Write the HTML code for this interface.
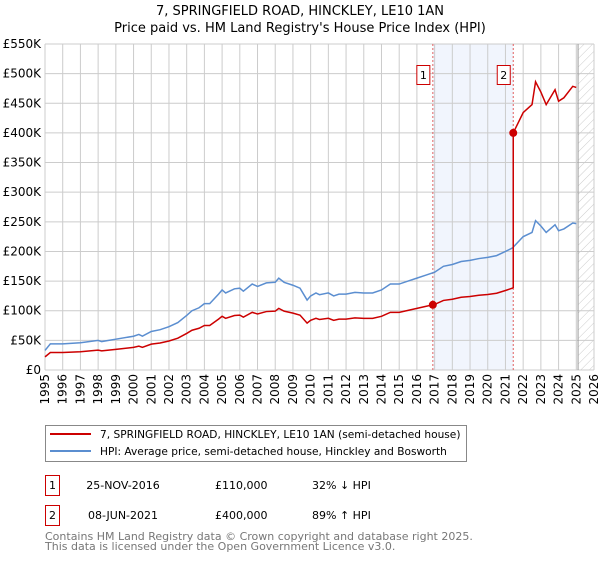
<!DOCTYPE html>
<html><head><meta charset="utf-8"><style>
body{margin:0;background:#fff;font-family:"DejaVu Sans","Liberation Sans",sans-serif;}
svg text{font-family:"DejaVu Sans","Liberation Sans",sans-serif;}
</style></head><body>
<svg id="chart" width="600" height="560" viewBox="0 0 600 560" xmlns="http://www.w3.org/2000/svg">
<defs><pattern id="hatch" width="6" height="6" patternUnits="userSpaceOnUse" patternTransform="rotate(45)"><line x1="0" y1="0" x2="0" y2="6" stroke="#ccc" stroke-width="1"/></pattern></defs>
<text x="300" y="15" text-anchor="middle" font-size="13">7, SPRINGFIELD ROAD, HINCKLEY, LE10 1AN</text>
<text x="300" y="32" text-anchor="middle" font-size="13">Price paid vs. HM Land Registry's House Price Index (HPI)</text>
<g id="grid"></g><g id="marks"></g><g id="axes"></g>
<g>
<rect x="45.5" y="425.5" width="421" height="36" fill="#fff" stroke="#888"/>
<line x1="50" y1="434" x2="91" y2="434" stroke="#cc0000" stroke-width="2"/>
<text x="100" y="438" font-size="10.6">7, SPRINGFIELD ROAD, HINCKLEY, LE10 1AN (semi-detached house)</text>
<line x1="50" y1="451" x2="91" y2="451" stroke="#5b8ed0" stroke-width="2"/>
<text x="100" y="455" font-size="10.6">HPI: Average price, semi-detached house, Hinckley and Bosworth</text>
</g>
<g font-size="11">
<rect x="45.5" y="475.5" width="14" height="20" fill="#fff" stroke="#cc0000"/><text x="52.5" y="489" text-anchor="middle">1</text>
<text x="123" y="489" text-anchor="middle">25-NOV-2016</text><text x="215" y="489">£110,000</text><text x="312" y="489">32% ↓ HPI</text>
<rect x="45.5" y="505.5" width="14" height="20" fill="#fff" stroke="#cc0000"/><text x="52.5" y="519" text-anchor="middle">2</text>
<text x="123" y="519" text-anchor="middle">08-JUN-2021</text><text x="215" y="519">£400,000</text><text x="312" y="519">89% ↑ HPI</text>
</g>
<text x="45" y="540" font-size="11" fill="#777">Contains HM Land Registry data © Crown copyright and database right 2025.</text>
<text x="45" y="550" font-size="11" fill="#777">This data is licensed under the Open Government Licence v3.0.</text>
</svg>
<script>
const hpiYears=[1995.0,1995.3,1996,1997,1998,1998.2,1999,2000,2000.3,2000.5,2001,2001.5,2002,2002.5,2003,2003.3,2003.7,2004,2004.3,2004.8,2005,2005.2,2005.7,2006,2006.2,2006.7,2007,2007.5,2008,2008.2,2008.5,2009,2009.4,2009.8,2010,2010.3,2010.5,2011,2011.3,2011.6,2012,2012.5,2013,2013.5,2014,2014.5,2015,2015.5,2016,2016.5,2017,2017.5,2018,2018.5,2019,2019.5,2020,2020.5,2021,2021.4,2022,2022.5,2022.7,2023,2023.3,2023.8,2024,2024.3,2024.8,2025];
const hpiValues=[33,44,44,46,50,48,52,57,60,57,65,68,73,80,92,100,105,112,112,128,135,130,137,138,133,145,141,147,148,155,148,143,138,118,125,130,127,130,125,128,128,131,130,130,135,145,145,150,155,160,165,175,178,183,185,188,190,193,200,206,225,232,252,243,232,245,235,238,248,247];
const saleDates=[2016.9,2021.44];
const salePrices=[110,400];
const yTicks=[0,50,100,150,200,250,300,350,400,450,500,550];
const yTickLabels=["£0","£50K","£100K","£150K","£200K","£250K","£300K","£350K","£400K","£450K","£500K","£550K"];
const xTicks=[1995,1996,1997,1998,1999,2000,2001,2002,2003,2004,2005,2006,2007,2008,2009,2010,2011,2012,2013,2014,2015,2016,2017,2018,2019,2020,2021,2022,2023,2024,2025,2026];
const dataEnd=2025.1;

const X0=45,X1=594,Y0=370,Y1=44;
const xs=t=>X0+(t-1995)/(2026-1995)*(X1-X0);
const ys=v=>Y0-v/550*(Y0-Y1);
const NS="http://www.w3.org/2000/svg";
function mk(tag,attrs,parent){const e=document.createElementNS(NS,tag);for(const k in attrs)e.setAttribute(k,attrs[k]);parent.appendChild(e);return e;}
const grid=document.getElementById('grid'),marks=document.getElementById('marks'),axes=document.getElementById('axes');
function hpiAt(t){for(let i=0;i<hpiYears.length-1;i++){if(t>=hpiYears[i]&&t<=hpiYears[i+1]){const f=(t-hpiYears[i])/(hpiYears[i+1]-hpiYears[i]);return hpiValues[i]+f*(hpiValues[i+1]-hpiValues[i]);}}return hpiValues[hpiValues.length-1];}

let r=mk('rect',{x:xs(saleDates[0]),y:Y1,width:xs(saleDates[1])-xs(saleDates[0]),height:Y0-Y1,fill:'#eef3fc',opacity:0.8},grid);


let h=mk('rect',{x:xs(dataEnd),y:Y1,width:X1-xs(dataEnd),height:Y0-Y1,fill:'url(#hatch)'},grid);


yTicks.forEach((v,i)=>{
  mk('line',{x1:X0,x2:X1,y1:ys(v),y2:ys(v),stroke:'#ccc','stroke-width':1},grid);
  const t=mk('text',{x:X0-4,y:ys(v)+4,'text-anchor':'end','font-size':12},axes);
  t.textContent=yTickLabels[i];
  
  
});
xTicks.forEach(y=>{
  mk('line',{x1:xs(y),x2:xs(y),y1:Y1,y2:Y0,stroke:'#ccc','stroke-width':1},grid);
  const t=mk('text',{x:0,y:0,'text-anchor':'end','font-size':12,transform:`translate(${xs(y)+4},374) rotate(-90)`},axes);
  t.textContent=y;
  
  
});
mk('line',{x1:xs(dataEnd),x2:xs(dataEnd),y1:Y1,y2:Y0,stroke:'#999','stroke-width':1},grid);
saleDates.forEach((d,i)=>{
  const l=mk('line',{x1:xs(d),x2:xs(d),y1:Y1,y2:Y0,stroke:'#e06060','stroke-width':1,'stroke-dasharray':'2,2'},grid);
  
  
  const b=mk('rect',{x:xs(d)-16,y:65.5,width:13,height:19,fill:'#fff',stroke:'#cc0000'},axes);
  
  
  const t=mk('text',{x:xs(d)-9.5,y:79,'text-anchor':'middle','font-size':11},axes);
  t.textContent=String(i+1);
});
const hp=mk('polyline',{points:hpiYears.map((t,i)=>xs(t)+','+ys(hpiValues[i])).join(' '),fill:'none',stroke:'#5b8ed0','stroke-width':1.5},marks);


const r1=salePrices[0]/hpiAt(saleDates[0]),r2=salePrices[1]/hpiAt(saleDates[1]);
const pts=[];
hpiYears.forEach((t,i)=>{if(t<saleDates[1])pts.push([t,hpiValues[i]*r1]);});
pts.push([saleDates[0],salePrices[0]]);
pts.sort((a,b)=>a[0]-b[0]);
pts.push([saleDates[1],hpiAt(saleDates[1])*r1]);
pts.push([saleDates[1],salePrices[1]]);
hpiYears.forEach((t,i)=>{if(t>saleDates[1])pts.push([t,hpiValues[i]*r2]);});
const pl=mk('polyline',{points:pts.map(p=>xs(p[0])+','+ys(p[1])).join(' '),fill:'none',stroke:'#cc0000','stroke-width':1.5},marks);


saleDates.forEach((d,i)=>{
  const c=mk('circle',{cx:xs(d),cy:ys(salePrices[i]),r:4,fill:'#cc0000'},marks);
  
  
});
</script>
</body></html>
